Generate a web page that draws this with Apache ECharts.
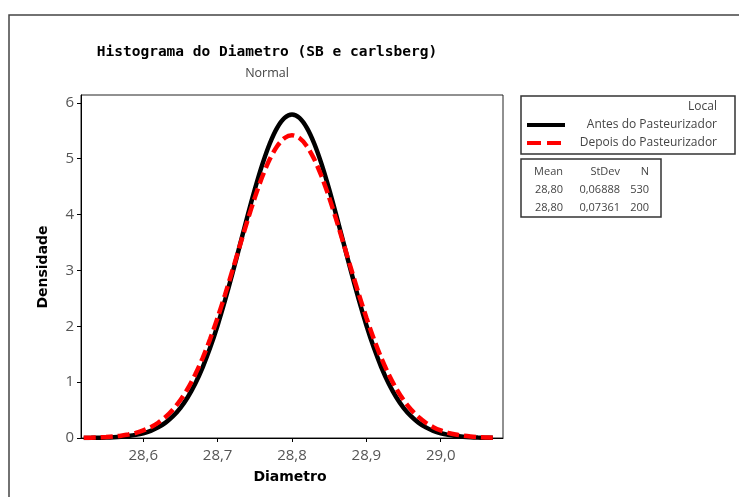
<!DOCTYPE html>
<html><head><meta charset="utf-8">
<script src="https://cdn.jsdelivr.net/npm/echarts@6/dist/echarts.min.js"></script>
<style>html,body{margin:0;padding:0;background:#fff}#c{width:739px;height:497px}</style>
</head><body><div id="c"></div>
<script>
// Data
const diametro = [28.52,28.53,28.54,28.55,28.56,28.57,28.58,28.59,28.60,28.61,28.62,28.63,28.64,28.65,28.66,28.67,28.68,28.69,28.70,28.71,28.72,28.73,28.74,28.75,28.76,28.77,28.78,28.79,28.80,28.81,28.82,28.83,28.84,28.85,28.86,28.87,28.88,28.89,28.90,28.91,28.92,28.93,28.94,28.95,28.96,28.97,28.98,28.99,29.00,29.01,29.02,29.03,29.04,29.05,29.06,29.07];
const antes = [0.0015,0.0027,0.0047,0.0080,0.0134,0.0220,0.0353,0.0555,0.0855,0.1290,0.1905,0.2755,0.3901,0.5408,0.7341,0.9758,1.2699,1.6182,2.0190,2.4666,2.9507,3.4560,3.9634,4.4505,4.8932,5.2679,5.5529,5.7313,5.7920,5.7313,5.5529,5.2679,4.8932,4.4505,3.9634,3.4560,2.9507,2.4666,2.0190,1.6182,1.2699,0.9758,0.7341,0.5408,0.3901,0.2755,0.1905,0.1290,0.0855,0.0555,0.0353,0.0220,0.0134,0.0080,0.0047,0.0027];
const depois = [0.0039,0.0065,0.0106,0.0170,0.0266,0.0411,0.0623,0.0926,0.135,0.194,0.273,0.377,0.511,0.680,0.888,1.140,1.435,1.775,2.154,2.567,3.003,3.449,3.888,4.303,4.676,4.988,5.224,5.370,5.420,5.370,5.224,4.988,4.676,4.303,3.888,3.449,3.003,2.567,2.154,1.775,1.435,1.140,0.888,0.680,0.511,0.377,0.273,0.194,0.135,0.0926,0.0623,0.0411,0.0266,0.0170,0.0106,0.0065];
const xTicks = [28.6,28.7,28.8,28.9,29.0];
const yTicks = [0,1,2,3,4,5,6];
const seriesNames = ['Antes do Pasteurizador','Depois do Pasteurizador'];
const legendTitle = 'Local';
const statsHeader = ['Mean','StDev','N'];
const statsRows = [['28,80','0,06888','530'],['28,80','0,07361','200']];
const titleText = 'Histograma do Diametro (SB e carlsberg)';
const subtitleText = 'Normal';
const xName = 'Diametro';
const yName = 'Densidade';

const chart = echarts.init(document.getElementById('c'), null, {renderer:'canvas'});
const lab = {fontFamily:'Open Sans', fontSize:15, color:'#555'};
const colX = [563, 620, 649];
const graphics = [
  {type:'rect', shape:{x:9,y:15,width:760,height:520}, style:{fill:'none', stroke:'#444', lineWidth:1.5}, silent:true},
  {type:'text', x:267, y:52, style:{text:titleText, font:'bold 14.5px "DejaVu Sans Mono"', fill:'#000', align:'center', verticalAlign:'middle'}},
  {type:'text', x:267, y:73, style:{text:subtitleText, font:'12.5px "Open Sans"', fill:'#444', align:'center', verticalAlign:'middle'}},
  {type:'text', x:290, y:477, style:{text:xName, font:'bold 14px "DejaVu Sans"', fill:'#000', align:'center', verticalAlign:'middle'}},
  {type:'text', x:43, y:267, rotation:Math.PI/2, style:{text:yName, font:'bold 14px "DejaVu Sans"', fill:'#000', align:'center', verticalAlign:'middle'}},
  {type:'rect', shape:{x:521,y:96,width:214,height:58}, style:{fill:'#fff', stroke:'#333', lineWidth:1.5}},
  {type:'text', x:717, y:107, style:{text:legendTitle, font:'12px "Open Sans"', fill:'#444', align:'right', verticalAlign:'middle'}},
  {type:'line', shape:{x1:527,y1:125,x2:565,y2:125}, style:{stroke:'#000', lineWidth:4}},
  {type:'text', x:717, y:125, style:{text:seriesNames[0], font:'12px "Open Sans"', fill:'#444', align:'right', verticalAlign:'middle'}},
  {type:'line', shape:{x1:527,y1:143,x2:563,y2:143}, style:{stroke:'#f00', lineWidth:4, lineDash:[14,6]}},
  {type:'text', x:717, y:143, style:{text:seriesNames[1], font:'12px "Open Sans"', fill:'#444', align:'right', verticalAlign:'middle'}},
  {type:'rect', shape:{x:521,y:159,width:140,height:58}, style:{fill:'#fff', stroke:'#333', lineWidth:1.5}}
];
statsHeader.forEach((t,i)=>graphics.push({type:'text', x:colX[i], y:172, style:{text:t, font:'11px "Open Sans"', fill:'#444', align:'right', verticalAlign:'middle'}}));
statsRows.forEach((row,r)=>row.forEach((t,i)=>graphics.push({type:'text', x:colX[i], y:190+r*18, style:{text:t, font:'11px "Open Sans"', fill:'#444', align:'right', verticalAlign:'middle'}})));

chart.setOption({
  animation:false,
  backgroundColor:'#fff',
  grid:{left:81, top:95, right:236, bottom:59, show:true, borderColor:'#222', borderWidth:1, backgroundColor:'#fff'},
  xAxis:{type:'value', min:28.5163, max:29.0837,
    axisLine:{onZero:false, lineStyle:{color:'#000', width:1}},
    axisTick:{show:true, length:4, customValues:xTicks, lineStyle:{color:'#000'}},
    axisLabel:Object.assign({margin:10, customValues:xTicks, formatter:v=>v.toFixed(1).replace('.',',')}, lab),
    splitLine:{show:false}},
  yAxis:{type:'value', min:0, max:6.14,
    axisLine:{show:true, lineStyle:{color:'#000', width:1}},
    axisTick:{show:true, length:4, customValues:yTicks, lineStyle:{color:'#000'}},
    axisLabel:Object.assign({margin:7, customValues:yTicks, formatter:v=>String(Math.round(v))}, lab),
    splitLine:{show:false}},
  series:[
    {name:seriesNames[0], type:'line', data:diametro.map((x,i)=>[x,antes[i]]), symbol:'none', smooth:0.3,
      lineStyle:{color:'#000', width:4.5}, z:2},
    {name:seriesNames[1], type:'line', data:diametro.map((x,i)=>[x,depois[i]]), symbol:'none', smooth:0.3,
      lineStyle:{color:'#f00', width:4.5, type:[12,5]}, z:3}
  ],
  graphic:graphics
});
</script></body></html>
